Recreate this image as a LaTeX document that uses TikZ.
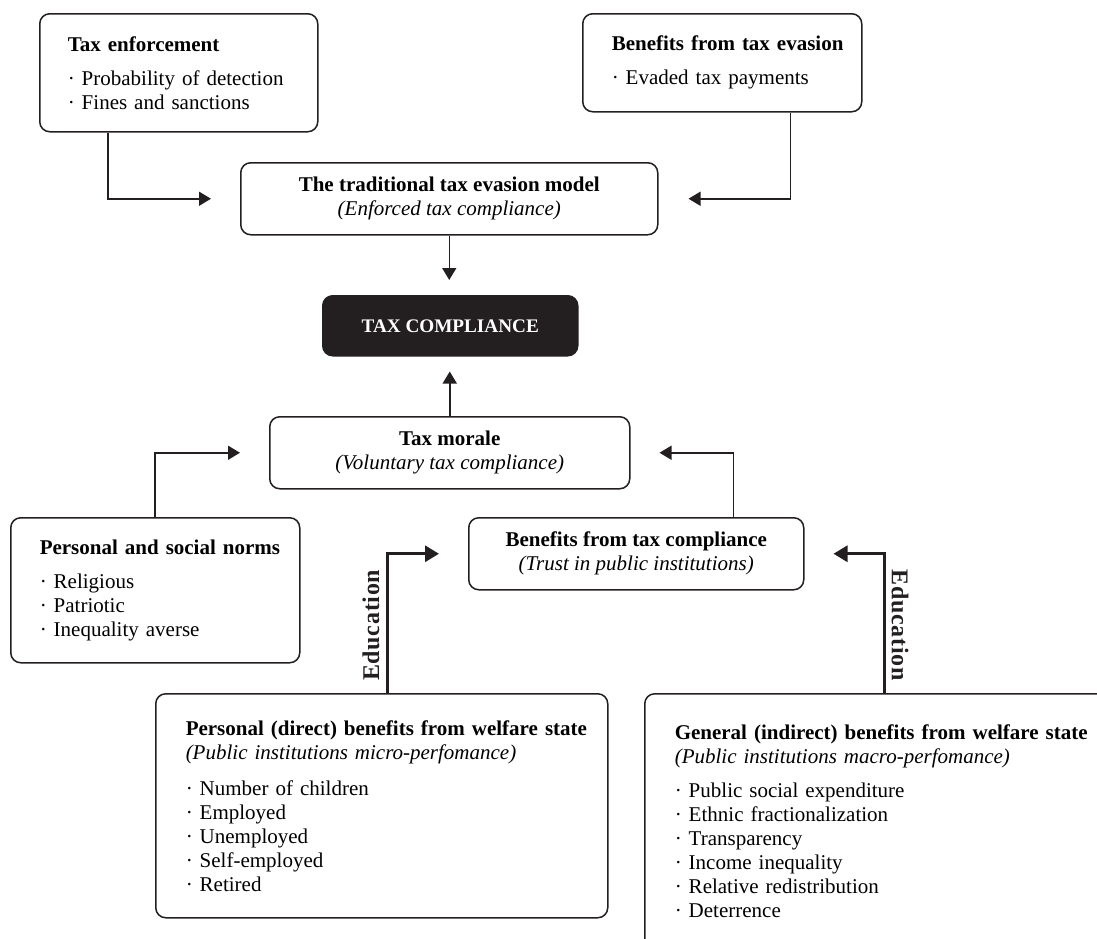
\documentclass[tikz,border=0pt]{standalone}
\usepackage{fontspec}
\setmainfont{Liberation Serif}
\usetikzlibrary{arrows.meta}
\definecolor{InkDark}{RGB}{35,31,32}
\newcommand{\itm}{\textperiodcentered\ }
\newcommand{\hd}[1]{\mbox{\textbf{#1}}}

\begin{document}
\begin{tikzpicture}[x=0.5pt,y=-0.5pt,
    font=\fontsize{10.5}{12}\selectfont,
    panel/.style={draw=InkDark,line width=0.75pt,rounded corners=5pt,
                  anchor=north west,inner ysep=0pt},
    lbox/.style={panel,align=left,text width=#1},
    cbox/.style={panel,align=center,inner xsep=0pt},
    arr/.style={-{Triangle[length=6pt,width=7pt]},InkDark,line width=0.75pt},
    edu/.style={-{Triangle[length=7pt,width=8pt]},InkDark,line width=1.5pt},
    edulbl/.style={font=\fontsize{12}{12}\selectfont\bfseries\addfontfeatures{LetterSpace=3},
                   anchor=south,inner sep=3pt,text=InkDark}
  ]
  \useasboundingbox (0,0) rectangle (1097,938);
  % upper level
  \node[lbox=111pt,inner xsep=14pt,minimum height=59pt] (TE) at (39,13)
    {\hd{Tax enforcement}\\[5pt]\itm Probability of detection\\\itm Fines and sanctions};
  \node[lbox=110.5pt,inner xsep=14.5pt,minimum height=49pt] (BE) at (582,13)
    {\hd{Benefits from tax evasion}\\[5pt]\itm Evaded tax payments};
  \node[cbox,minimum width=208.5pt,minimum height=36pt] (TM) at (240,162)
    {\textbf{The traditional tax evasion model}\\\textit{(Enforced tax compliance)}};
  \node[cbox,fill=InkDark,text=white,minimum width=127.5pt,minimum height=30pt,
        font=\fontsize{9.6}{12}\selectfont\bfseries] (TC) at (322,295) {TAX COMPLIANCE};
  % lower level
  \node[cbox,minimum width=180pt,minimum height=36pt] (MO) at (269,416)
    {\textbf{Tax morale}\\\textit{(Voluntary tax compliance)}};
  \node[lbox=115.5pt,inner xsep=14.5pt,minimum height=72.5pt] (PN) at (10,517)
    {\hd{Personal and social norms}\\[5pt]\itm Religious\\\itm Patriotic\\\itm Inequality averse};
  \node[cbox,minimum width=167.5pt,minimum height=36pt] (BC) at (468,517)
    {\textbf{Benefits from tax compliance}\\\textit{(Trust in public institutions)}};
  \node[lbox=196pt,inner xsep=15pt,minimum height=112pt] (PB) at (155,693)
    {\hd{Personal (direct) benefits from welfare state}\\\textit{(Public institutions micro-perfomance)}\\[6pt]
     \itm Number of children\\\itm Employed\\\itm Unemployed\\\itm Self-employed\\\itm Retired};
  \node[lbox=205.5pt,inner xsep=15pt,minimum height=127.5pt] (GB) at (644,693)
    {\hd{General (indirect) benefits from welfare state}\\\textit{(Public institutions macro-perfomance)}\\[5pt]
     \itm Public social expenditure\\\itm Ethnic fractionalization\\\itm Transparency\\
     \itm Income inequality\\\itm Relative redistribution\\\itm Deterrence};
  % connectors
  \draw[arr] ([xshift=34.5pt]TE.south west) |- ([xshift=-14.5pt]TM.west);
  \draw[arr] ([xshift=-36pt]BE.south east) |- ([xshift=15pt]TM.east);
  \draw[arr,shorten >=7.5pt] (TM.south) -- (TM.south |- TC.north);
  \draw[arr,shorten >=7.5pt] (MO.north) -- (MO.north |- TC.south);
  \draw[arr] ([xshift=72.5pt]PN.north west) |- ([xshift=-14.5pt]MO.west);
  \draw[arr] ([xshift=-35.5pt]BC.north east) |- ([xshift=14.5pt]MO.east);
  \draw[edu] ([xshift=116pt]PB.north west) |- node[pos=0.243,edulbl,rotate=90] {Education}
    ([xshift=-14.5pt]BC.west);
  \draw[edu] ([xshift=120pt]GB.north west) |- node[pos=0.243,edulbl,rotate=-90] {Education}
    ([xshift=14.5pt]BC.east);
\end{tikzpicture}
\end{document}
